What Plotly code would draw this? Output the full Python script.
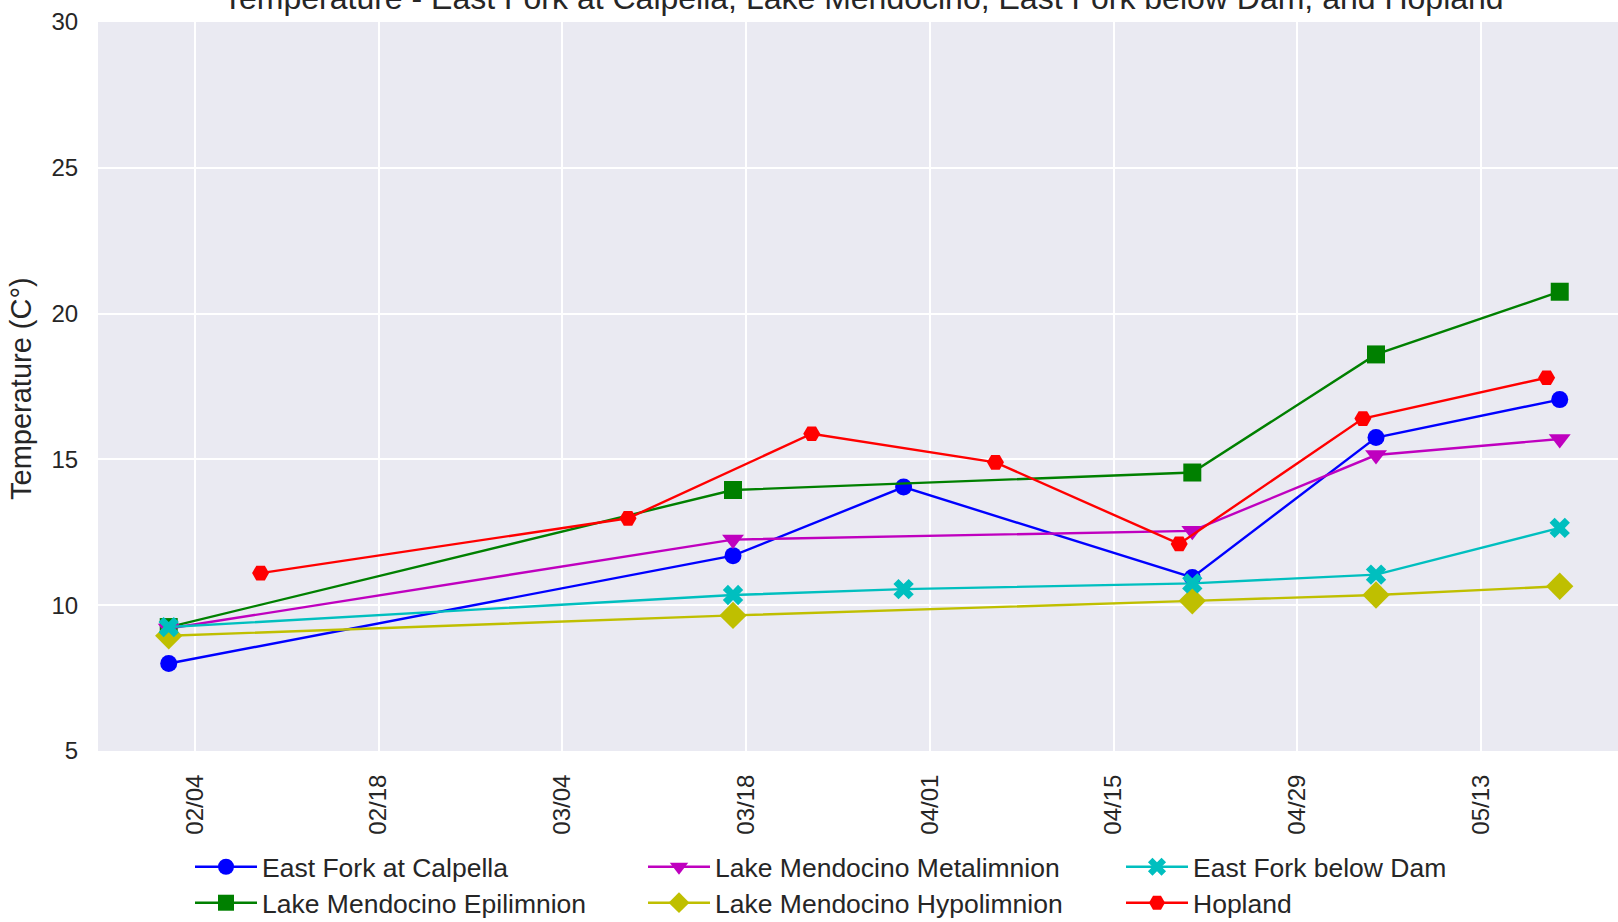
import plotly.graph_objects as go

# ---- data ----
calpella_dates = ["2019-02-02", "2019-03-17", "2019-03-30", "2019-04-21", "2019-05-05", "2019-05-19"]
calpella_vals = [8.0, 11.7, 14.05, 10.95, 15.75, 17.05]

epi_dates = ["2019-02-02", "2019-03-17", "2019-04-21", "2019-05-05", "2019-05-19"]
epi_vals = [9.25, 13.95, 14.55, 18.6, 20.75]

meta_dates = ["2019-02-02", "2019-03-17", "2019-04-21", "2019-05-05", "2019-05-19"]
meta_vals = [9.2, 12.25, 12.55, 15.15, 15.7]

hypo_dates = ["2019-02-02", "2019-03-17", "2019-04-21", "2019-05-05", "2019-05-19"]
hypo_vals = [8.95, 9.65, 10.15, 10.35, 10.65]

dam_dates = ["2019-02-02", "2019-03-17", "2019-03-30", "2019-04-21", "2019-05-05", "2019-05-19"]
dam_vals = [9.25, 10.35, 10.55, 10.75, 11.05, 12.65]

hop_dates = ["2019-02-09", "2019-03-09", "2019-03-23", "2019-04-06", "2019-04-20", "2019-05-04", "2019-05-18"]
hop_vals = [11.1, 12.98, 15.88, 14.9, 12.1, 16.4, 17.8]

x_tick_vals = ["2019-02-04", "2019-02-18", "2019-03-04", "2019-03-18",
               "2019-04-01", "2019-04-15", "2019-04-29", "2019-05-13"]
x_tick_text = ["02/04", "02/18", "03/04", "03/18", "04/01", "04/15", "04/29", "05/13"]
y_tick_vals = [5, 10, 15, 20, 25, 30]

title_text = "Temperature - East Fork at Calpella, Lake Mendocino, East Fork below Dam, and Hopland"
y_title = "Temperature (C°)"

FONT = "Liberation Sans, Arial, sans-serif"
TXT = "#262626"

W, H = 1618, 922
L, R, T, B = 98, 0, 22, 171
PW = W - L - R
PH = H - T - B

series = [
    ("East Fork at Calpella", calpella_dates, calpella_vals, "#0000ff", "circle", 17, "legend", 190, 867),
    ("Lake Mendocino Epilimnion", epi_dates, epi_vals, "#008000", "square", 18, "legend2", 190, 903),
    ("Lake Mendocino Metalimnion", meta_dates, meta_vals, "#bf00bf", "triangle-down", 19, "legend3", 643, 867),
    ("Lake Mendocino Hypolimnion", hypo_dates, hypo_vals, "#bfbf00", "diamond", 21, "legend4", 643, 903),
    ("East Fork below Dam", dam_dates, dam_vals, "#00bfbf", "x", 18, "legend5", 1121, 867),
    ("Hopland", hop_dates, hop_vals, "#ff0000", "hexagon2", 17, "legend6", 1121, 903),
]

fig = go.Figure()
legends = {}
for name, xs, ys, col, sym, sz, lg, lx, ly in series:
    fig.add_trace(go.Scatter(
        x=xs, y=ys, name=name, mode="lines+markers",
        line=dict(color=col, width=2.4),
        marker=dict(color=col, symbol=sym, size=sz, line=dict(width=0)),
        legend=lg,
    ))
    legends[lg] = dict(
        x=(lx - L) / PW, xanchor="left",
        y=(H - B - ly) / PH, yanchor="middle",
        bgcolor="rgba(0,0,0,0)", borderwidth=0,
        font=dict(family=FONT, size=26.5, color=TXT),
        itemwidth=62,
    )

fig.update_layout(
    width=W, height=H,
    margin=dict(l=L, r=R, t=T, b=B, autoexpand=False),
    paper_bgcolor="white",
    plot_bgcolor="#eaeaf2",
    font=dict(family=FONT, color=TXT),
    showlegend=True,
    **legends,
)

fig.update_xaxes(
    type="date",
    range=["2019-01-27 14:38", "2019-05-23 10:34"],
    tickvals=x_tick_vals, ticktext=x_tick_text,
    tickangle=-90,
    tickfont=dict(family=FONT, size=24, color=TXT),
    showgrid=True, gridcolor="white", gridwidth=2,
    zeroline=False, showline=False,
    ticks="outside", ticklen=0, ticklabelstandoff=13,
)
fig.update_yaxes(
    range=[5, 30],
    tickvals=y_tick_vals,
    tickfont=dict(family=FONT, size=24, color=TXT),
    showgrid=True, gridcolor="white", gridwidth=2,
    zeroline=False, showline=False,
    ticks="outside", ticklen=0, ticklabelstandoff=14,
)

fig.add_annotation(
    text=title_text, xref="paper", yref="paper",
    x=(863 - L) / PW, y=1, xanchor="center", yanchor="bottom", yshift=4,
    showarrow=False, font=dict(family=FONT, size=32, color=TXT),
)
fig.add_annotation(
    text=y_title, xref="paper", yref="paper",
    x=0, y=(H - B - 389) / PH, xshift=21 - L, xanchor="center", yanchor="middle",
    textangle=-90, showarrow=False, font=dict(family=FONT, size=29, color=TXT),
)

fig.write_html("out.html", config={"displayModeBar": False},
               post_script="document.body.style.margin='0';")
